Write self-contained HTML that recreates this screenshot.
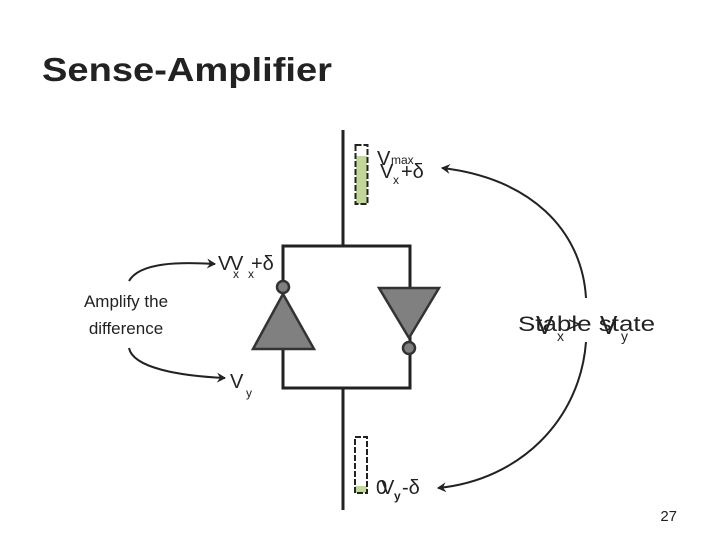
<!DOCTYPE html>
<html><head><meta charset="utf-8"><style>
html,body{margin:0;padding:0;background:#fff;width:720px;height:540px;overflow:hidden}
svg text{font-family:"Liberation Sans","DejaVu Sans",sans-serif;fill:#222}
</style></head><body>
<svg width="720" height="540" viewBox="0 0 720 540" xmlns="http://www.w3.org/2000/svg">
<defs><marker id="a" markerWidth="10" markerHeight="10" refX="8" refY="5" orient="auto" markerUnits="userSpaceOnUse"><path d="M0,0 L9,5 L0,10 L3,5 z" fill="#222"/></marker></defs>
<text x="42" y="81" font-size="33" font-weight="bold" fill="#111" textLength="290" lengthAdjust="spacingAndGlyphs">Sense-Amplifier</text>
<g stroke="#222" stroke-width="3" fill="none">
<line x1="343" y1="130" x2="343" y2="246"/>
<line x1="343" y1="388" x2="343" y2="510"/>
<rect x="283" y="246" width="127" height="142"/>
</g>
<rect x="356" y="156" width="11" height="48" fill="#c3d69b"/>
<rect x="355.5" y="145" width="12" height="59" fill="none" stroke="#222" stroke-width="2" stroke-dasharray="6,2"/>
<rect x="355" y="486" width="12" height="7" fill="#c3d69b"/>
<rect x="355" y="437" width="12" height="56" fill="none" stroke="#222" stroke-width="2" stroke-dasharray="6,2"/>
<polygon points="283,294 253,349 314,349" fill="#808080" stroke="#333" stroke-width="2.5"/>
<circle cx="283" cy="287" r="6" fill="#808080" stroke="#333" stroke-width="2.5"/>
<polygon points="379,288 439,288 409,338" fill="#808080" stroke="#333" stroke-width="2.5"/>
<circle cx="409" cy="348" r="6" fill="#808080" stroke="#333" stroke-width="2.5"/>
<g stroke="#222" stroke-width="2" fill="none" marker-end="url(#a)">
<path d="M129,281 C140,262 180,262 215,264"/>
<path d="M129,348 C133,368 180,376 225,378"/>
<path d="M586,298 C582,230 530,178 442,168"/>
<path d="M586,342 C580,420 520,480 438,488"/>
</g>
<text x="377" y="165" font-size="20">V</text><text x="391" y="164" font-size="12">max</text>
<text x="380" y="178" font-size="20">V</text><text x="393" y="184" font-size="12">x</text><text x="401" y="178" font-size="20">+δ</text>
<text x="218" y="270" font-size="20">V</text><text x="233" y="278" font-size="12">x</text>
<text x="230" y="270" font-size="20">V</text><text x="248" y="278" font-size="12">x</text><text x="251" y="270" font-size="20">+δ</text>
<text x="230" y="388" font-size="20">V</text><text x="246" y="397" font-size="12">y</text>
<text x="126" y="307" font-size="17" text-anchor="middle">Amplify the</text>
<text x="126" y="334" font-size="17" text-anchor="middle">difference</text>
<text x="518" y="331" font-size="21" textLength="137" lengthAdjust="spacingAndGlyphs">Stable state</text>
<text x="536" y="334" font-size="26">V</text><text x="557" y="341" font-size="14">x</text>
<text x="568" y="331" font-size="20">&gt;</text>
<text x="600" y="334" font-size="26">V</text><text x="621" y="341" font-size="14">y</text>
<text x="376" y="494" font-size="20">0</text>
<text x="381" y="494" font-size="20">V</text><text x="394" y="500" font-size="12" font-weight="bold">y</text><text x="402" y="494" font-size="20">-δ</text>
<text x="677" y="521" font-size="15" text-anchor="end" fill="#666">27</text>
</svg>
</body></html>
